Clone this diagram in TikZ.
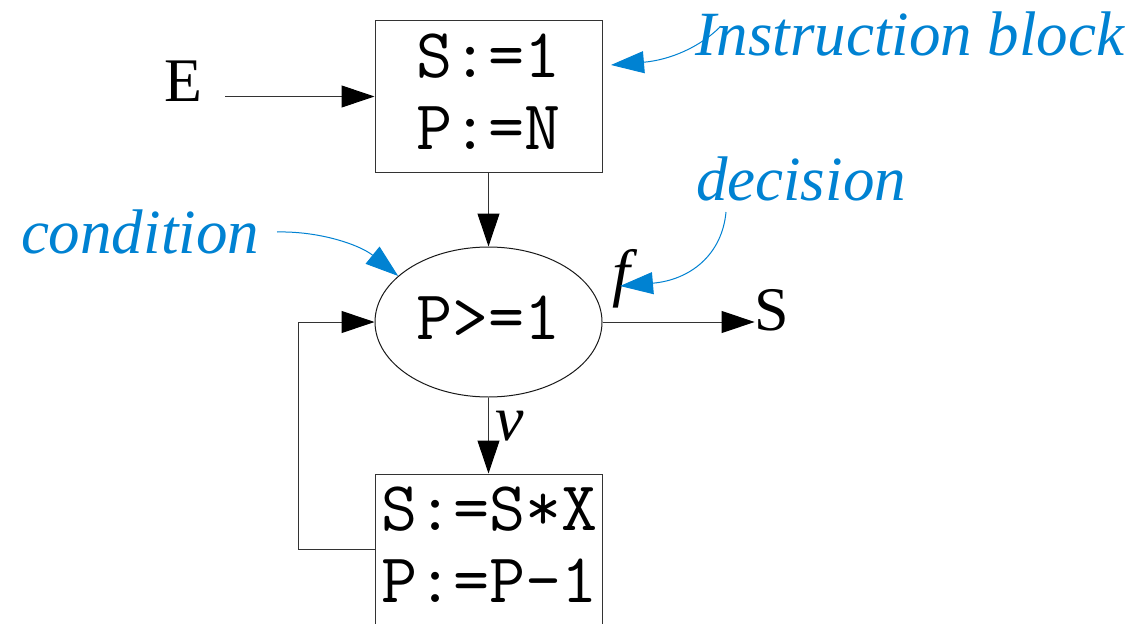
\documentclass[tikz,border=0pt]{standalone}
\usepackage{fontspec}
\setmainfont{LiberationSerif}[Extension=.ttf, UprightFont=*-Regular, ItalicFont=*-Italic, BoldFont=*-Bold, BoldItalicFont=*-BoldItalic]
\usetikzlibrary{arrows.meta,shapes.geometric}
\definecolor{lblue}{RGB}{0,130,210}
\tikzset{
  box/.style={draw=black!80, line width=1pt, rectangle, minimum width=227pt, inner sep=0pt},
  oval/.style={draw=black!90, line width=1pt, ellipse, minimum width=227pt, minimum height=150pt, inner sep=0pt},
  code/.style={font=\fontsize{70}{71}\selectfont\ttfamily, inner sep=0pt, anchor=base},
  arr/.style={draw=black!80, line width=1pt, -{Triangle[length=33pt,width=22pt,color=black]}},
  barr/.style={draw=lblue, line width=1pt, -{Triangle[length=33pt,width=22pt]}},
  lbl/.style={font=\fontsize{63}{70}\selectfont\itshape, text=lblue, inner sep=0pt, anchor=base},
  big/.style={font=\fontsize{62}{70}\selectfont, inner sep=0pt, anchor=base},
  ital/.style={font=\fontsize{64}{70}\selectfont\itshape, inner sep=0pt, anchor=base}
}
\begin{document}
\begin{tikzpicture}[x=1pt,y=-1pt]
\useasboundingbox (0,0) rectangle (1147,623);
\fill[white] (0,0) rectangle (1147,623);
\clip (0,0) rectangle (1147,623);

% blocks
\node[box, minimum height=151pt] (b1) at (488.5,96.5) {};
\node[code] (t1) at (488.5,78) {S:=1};
\node[code] (t2) at (488.5,149) {P:=N};
\node[oval] (cond) at (488.5,322) {};
\node[code] (t3) at (488.5,339) {P>=1};
\node[box, minimum height=190pt] (b2) at (488.5,569) {};
\node[code] (t4) at (489.5,530) {S:=S*X};
\node[code] (t5) at (489.5,602) {P:=P-1};

% terminals and branch labels
\node[big] (E) at (183,102) {E};
\node[big] (S) at (772,330) {S};
\node[ital] (f) at (621,294) {f};
\node[ital] (v) at (510,440) {v};

% annotations
\node[lbl] (ib) at (910,56) {Instruction block};
\node[lbl] (dc) at (801,200) {decision};
\node[lbl] (cn) at (140,253) {condition};

% connectors
\draw[arr, shorten <=23pt] (E.east |- b1.west) -- (b1.west);
\draw[arr] (b1.south) -- (cond.north);
\draw[arr] (cond.east) -- (cond.east -| S.west);
\draw[arr] (cond.south) -- (b2.north);
\draw[arr] ([yshift=20pt]b2.west) -- ++(-76,0) |- (cond.west);

% annotation arrows
\coordinate (ibs) at (720,27);
\coordinate (ibt) at (611,65);
\coordinate (dcs) at (726,212);
\coordinate (dct) at (620,286);
\coordinate (cns) at (277,232);
\draw[barr] (ibs) .. controls (700,47) and (670,60) .. (ibt);
\draw[barr] (dcs) .. controls (722,255) and (690,280) .. (dct);
\draw[barr] (cns) .. controls (320,231) and (360,245) .. (cond.153.6);
\end{tikzpicture}
\end{document}
